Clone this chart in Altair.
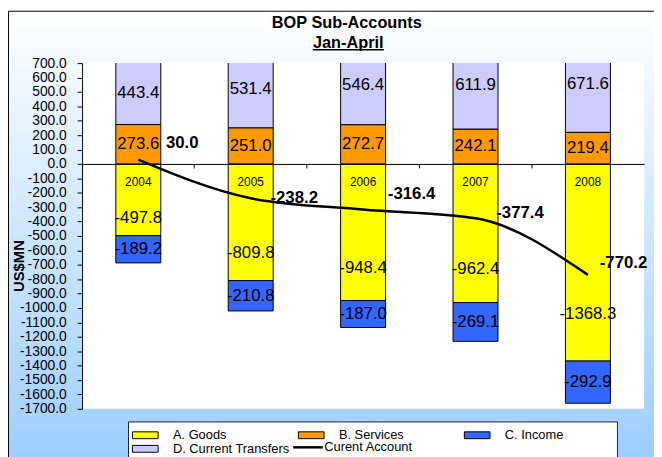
import altair as alt
import pandas as pd

# ---- data ----
years = ["2004", "2005", "2006", "2007", "2008"]
goods = [-497.8, -809.8, -948.4, -962.4, -1368.3]
services = [273.6, 251.0, 272.7, 242.1, 219.4]
income = [-189.2, -210.8, -187.0, -269.1, -292.9]
transfers = [443.4, 531.4, 546.4, 611.9, 671.6]
current_account = [30.0, -238.2, -316.4, -377.4, -770.2]

components = ["A. Goods", "B. Services", "C. Income", "D. Current Transfers"]
component_colors = ["#FFFF00", "#FF9900", "#3366FF", "#CCCCFF"]
line_name = "Curent Account"
title_text = "BOP Sub-Accounts"
subtitle_text = "Jan-April"
y_title = "US$MN"
y_ticks = list(range(-1700, 701, 100))

rows = []
for i, yr in enumerate(years):
    for k, (name, vals) in enumerate(zip(components, [goods, services, income, transfers])):
        rows.append({"year": yr, "component": name, "order": k, "value": vals[i]})
bars_df = pd.DataFrame(rows)
line_df = pd.DataFrame({"year": years, "series": line_name, "value": current_account})

# ---- layout / style ----
W, H = 569, 350
FONT = "Liberation Sans"
HYPHEN_FMT = "(datum.value < 0 ? '-' : '') + format(abs(datum.value), '.1f')"

# Vega lays legend entries column-major (2 rows); this domain order shows A B C / D
legend_order = [0, 2, 1, 3]
legend_domain = [components[i] for i in legend_order]
legend_range = [component_colors[i] for i in legend_order]

xscale = alt.Scale(domain=years, paddingInner=0, paddingOuter=0)
xaxis = alt.Axis(labels=False, domainColor="black", tickColor="black", tickSize=4,
                 bandPosition=0, offset=-247.9, zindex=1, grid=False, title=None)
yscale = alt.Scale(domain=[-1700, 700], nice=False, zero=False)
yaxis = alt.Axis(values=y_ticks, labelExpr=HYPHEN_FMT, labelFontSize=14,
                 labelColor="black", labelFont=FONT, tickColor="black", tickSize=5,
                 labelPadding=11, domainColor="black", grid=False, labelOverlap=False,
                 titleFontSize=15, titleFontWeight="bold", titleColor="black",
                 titleFont=FONT, titleX=-64, titleY=205, titleAngle=270,
                 titleAlign="center", titleBaseline="middle", zindex=1)


def X():
    return alt.X("year:N", scale=xscale, axis=xaxis, title=None)


def Y(field):
    return alt.Y(field, scale=yscale, axis=yaxis, title=y_title)


one = alt.Data(values=[{}])

gradient = {
    "gradient": "linear", "x1": 0, "y1": 0, "x2": 0, "y2": 1,
    "stops": [{"offset": 0, "color": "#FFFFFF"}, {"offset": 1, "color": "#99CCFF"}],
}
background = alt.Chart(one).mark_rect(fill=gradient, stroke="black", strokeWidth=1).encode(
    x=alt.value(-74.5), x2=alt.value(600), y=alt.value(-52.5), y2=alt.value(420)
)
plot_bg = alt.Chart(one).mark_rect(fill="white").encode(
    x=alt.value(0), x2=alt.value(W), y=alt.value(0), y2=alt.value(H)
)
legend_box = alt.Chart(one).mark_rect(fill="white", stroke="#222222", strokeWidth=1).encode(
    x=alt.value(47), x2=alt.value(542), y=alt.value(363.3), y2=alt.value(420)
)

title1 = alt.Chart(one).mark_text(fontSize=16.5, fontWeight="bold", font=FONT,
                                  color="black", baseline="middle").encode(
    x=alt.value(268), y=alt.value(-40.5), text=alt.value(title_text)
)
title2 = alt.Chart(one).mark_text(fontSize=16.5, fontWeight="bold", font=FONT,
                                  color="black", baseline="middle").encode(
    x=alt.value(269.5), y=alt.value(-20.5), text=alt.value(subtitle_text)
)
underline = alt.Chart(one).mark_rule(color="black", strokeWidth=1.5).encode(
    x=alt.value(233.5), x2=alt.value(305.5), y=alt.value(-13.5)
)

stacked = alt.Chart(bars_df).transform_stack(
    stack="value", groupby=["year"], as_=["v0", "v1"],
    sort=[alt.SortField("order", "ascending")]
)

bars = stacked.mark_bar(width=alt.RelativeBandSize(0.4), stroke="black", strokeWidth=1,
                        clip=True).encode(
    x=X(),
    y=Y("v0:Q"),
    y2="v1:Q",
    color=alt.Color("component:N",
                    scale=alt.Scale(domain=legend_domain, range=legend_range),
                    legend=alt.Legend(
                        title=None, orient="none", legendX=47, legendY=366,
                        columns=3, gridAlign="all", columnPadding=7, rowPadding=-4,
                        symbolType="M-1.5,-0.8L4.5,-0.8L4.5,0.8L-1.5,0.8Z",
                        symbolSize=75, symbolStrokeColor="black", symbolStrokeWidth=1,
                        symbolOpacity=1, labelFontSize=13, labelFont=FONT,
                        labelColor="black", labelOffset=28, labelLimit=0,
                        padding=4, zindex=1)),
    order=alt.Order("order:Q"),
)

bar_labels = stacked.transform_calculate(
    lab="datum.component == 'A. Goods' ? datum.value * 0.76 : (datum.v0 + datum.v1) / 2",
    txt="(datum.value < 0 ? '-' : '') + format(abs(datum.value), '.1f')",
).mark_text(fontSize=17, font=FONT, color="black", baseline="middle").encode(
    x=X(),
    y=Y("lab:Q"),
    text="txt:N",
)

year_labels = alt.Chart(line_df).mark_text(fontSize=12, font=FONT, color="black",
                                           baseline="middle", dy=18).encode(
    x=X(),
    y=alt.Y(datum=0, scale=yscale, axis=yaxis, title=y_title),
    text="year:N",
)

line = alt.Chart(line_df).mark_line(interpolate="monotone", strokeWidth=2.5).encode(
    x=X(),
    y=Y("value:Q"),
    stroke=alt.Stroke("series:N",
                      scale=alt.Scale(domain=[line_name], range=["black"]),
                      legend=alt.Legend(
                          title=None, orient="none", legendX=213.7, legendY=382.5,
                          symbolType="M-1.5,0L5.43,0", symbolSize=75,
                          symbolStrokeColor="black", symbolStrokeWidth=2.5,
                          symbolFillColor="transparent", labelFontSize=13,
                          labelFont=FONT, labelColor="black", labelOffset=18.5,
                          labelLimit=0, padding=0, zindex=1)),
)

# label placement of the current-account values (pixel nudges, as in the reference)
line_label_offsets = {"2004": (28, -17), "2005": (20, 0), "2006": (25, -16),
                      "2007": (21, -5), "2008": (12, -12)}
line_label_layers = []
for yr in years:
    ddx, ddy = line_label_offsets[yr]
    line_label_layers.append(
        alt.Chart(line_df).transform_filter(alt.datum.year == yr).transform_calculate(
            txt="(datum.value < 0 ? '-' : '') + format(abs(datum.value), '.1f')"
        ).mark_text(fontSize=17, font=FONT, fontWeight="bold", color="black",
                    align="left", baseline="middle", dx=ddx, dy=ddy).encode(
            x=X(),
            y=Y("value:Q"),
            text="txt:N",
        )
    )

chart = alt.layer(
    background, plot_bg, legend_box, title1, title2, underline,
    bars, bar_labels, year_labels, line, *line_label_layers
).properties(
    width=W, height=H,
    padding={"left": 75, "top": 53, "right": 10, "bottom": 46},
    autosize=alt.AutoSizeParams(type="none"),
).configure(font=FONT).configure_view(stroke="#808080", strokeWidth=1)

chart.save("out.html", embed_options={"renderer": "svg", "actions": False})
